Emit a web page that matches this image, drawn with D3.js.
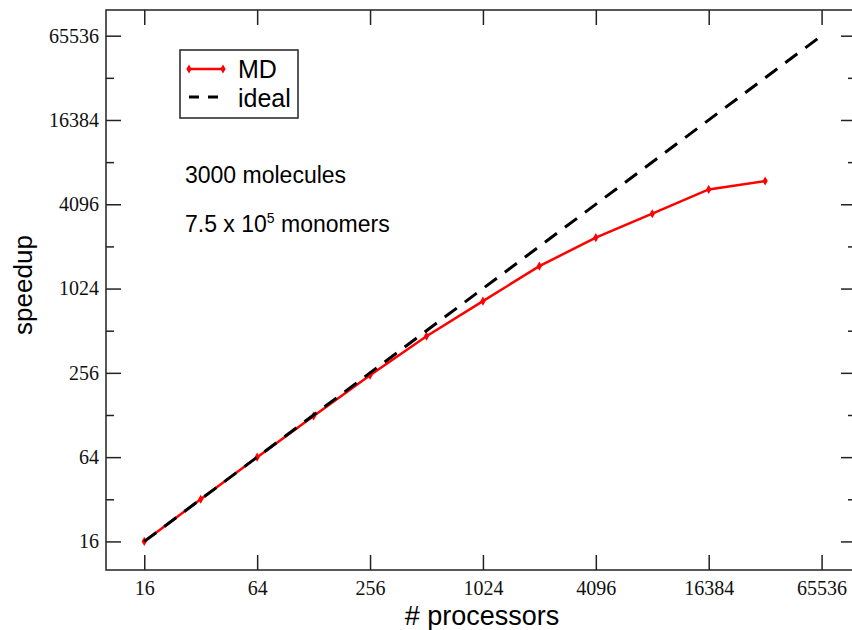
<!DOCTYPE html>
<html>
<head>
<meta charset="utf-8">
<script src="https://cdn.jsdelivr.net/npm/d3@7"></script>
<style>
  html, body { margin: 0; padding: 0; background: #fff; }
  svg { display: block; }
</style>
</head>
<body>
<svg id="chart" width="852" height="630"></svg>
<script>
// Strong-scaling speedup of the MD code versus processor count
const processors = [16, 32, 64, 128, 256, 512, 1024, 2048, 4096, 8192, 16384, 32768];
const mdSpeedup  = [16, 32, 64, 126, 246, 467, 832, 1482, 2366, 3508, 5230, 6000];
const idealProcessors = [16, 65536];
const idealSpeedup    = [16, 65536];

const majorTicks = [16, 64, 256, 1024, 4096, 16384, 65536];
const minorTicksY = [32, 128, 512, 2048, 8192, 32768];

const svg = d3.select("#chart");

const frame = { left: 106, top: 10, right: 856, bottom: 570 };

const x = d3.scaleLog().base(2).domain([10, 100000]).range([frame.left, frame.right]);
const y = d3.scaleLog().base(2).domain([10, 100000]).range([frame.bottom, frame.top]);

const serif = "'Liberation Serif', 'Times New Roman', serif";
const sans = "'Liberation Sans', Arial, Helvetica, sans-serif";

function styleAxis(g, withLabels) {
  g.select(".domain").remove();
  g.selectAll(".tick line").attr("stroke", "#222").attr("stroke-width", 1.5);
  g.selectAll(".tick text")
    .attr("fill", "#111")
    .style("font-family", serif)
    .style("font-size", "20px");
  if (!withLabels) g.selectAll(".tick text").remove();
}

// bottom axis with labels, ticks pointing inward
svg.append("g")
  .attr("transform", `translate(0,${frame.bottom})`)
  .call(d3.axisBottom(x).tickValues(majorTicks).tickFormat(d3.format("d"))
    .tickSize(-15).tickPadding(11))
  .call(g => styleAxis(g, true));

// top mirror ticks
svg.append("g")
  .attr("transform", `translate(0,${frame.top})`)
  .call(d3.axisTop(x).tickValues(majorTicks).tickSize(-15))
  .call(g => styleAxis(g, false));

// left axis with labels
svg.append("g")
  .attr("transform", `translate(${frame.left},0)`)
  .call(d3.axisLeft(y).tickValues(majorTicks).tickFormat(d3.format("d"))
    .tickSize(-15).tickPadding(7))
  .call(g => styleAxis(g, true));

svg.append("g")
  .attr("transform", `translate(${frame.left},0)`)
  .call(d3.axisLeft(y).tickValues(minorTicksY).tickSize(-8))
  .call(g => styleAxis(g, false));

// right mirror ticks
svg.append("g")
  .attr("transform", `translate(${frame.right},0)`)
  .call(d3.axisRight(y).tickValues(majorTicks).tickSize(-15))
  .call(g => styleAxis(g, false));

svg.append("g")
  .attr("transform", `translate(${frame.right},0)`)
  .call(d3.axisRight(y).tickValues(minorTicksY).tickSize(-8))
  .call(g => styleAxis(g, false));

// plot frame
svg.append("rect")
  .attr("x", frame.left).attr("y", frame.top)
  .attr("width", frame.right - frame.left).attr("height", frame.bottom - frame.top)
  .attr("fill", "none").attr("stroke", "#222").attr("stroke-width", 1.5);

const line = d3.line().x(d => x(d[0])).y(d => y(d[1]));

// measured MD speedup
const mdData = d3.zip(processors, mdSpeedup);
svg.append("path")
  .datum(mdData)
  .attr("d", line)
  .attr("fill", "none")
  .attr("stroke", "#ff0000")
  .attr("stroke-width", 2.5);

const diamond = d3.symbol().type(d3.symbolDiamond).size(24);
svg.append("g").selectAll("path")
  .data(mdData)
  .join("path")
  .attr("d", diamond)
  .attr("transform", d => `translate(${x(d[0])},${y(d[1])})`)
  .attr("fill", "#ff0000");

// ideal scaling (dashed), drawn over the measured curve
svg.append("path")
  .datum(d3.zip(idealProcessors, idealSpeedup))
  .attr("d", line)
  .attr("fill", "none")
  .attr("stroke", "#000")
  .attr("stroke-width", 3)
  .attr("stroke-dasharray", "15,10");

// axis titles
svg.append("text")
  .attr("x", 482).attr("y", 625)
  .attr("text-anchor", "middle")
  .style("font-family", sans).style("font-size", "27px")
  .attr("fill", "#000")
  .text("# processors");

svg.append("text")
  .attr("transform", "translate(32,285) rotate(-90)")
  .attr("text-anchor", "middle")
  .style("font-family", sans).style("font-size", "26px")
  .attr("fill", "#000")
  .text("speedup");

// legend
const legend = svg.append("g");
legend.append("rect")
  .attr("x", 180).attr("y", 50).attr("width", 118).attr("height", 68)
  .attr("fill", "#fff").attr("stroke", "#222").attr("stroke-width", 1.5);
legend.append("line")
  .attr("x1", 189).attr("x2", 223).attr("y1", 69).attr("y2", 69)
  .attr("stroke", "#ff0000").attr("stroke-width", 2.5);
legend.selectAll(".lm")
  .data([189, 223])
  .join("path")
  .attr("d", diamond)
  .attr("transform", d => `translate(${d},69)`)
  .attr("fill", "#ff0000");
legend.append("line")
  .attr("x1", 189).attr("x2", 222).attr("y1", 97).attr("y2", 97)
  .attr("stroke", "#000").attr("stroke-width", 3)
  .attr("stroke-dasharray", "10,9");
legend.append("text")
  .attr("x", 238).attr("y", 78)
  .style("font-family", sans).style("font-size", "25px")
  .text("MD");
legend.append("text")
  .attr("x", 238).attr("y", 107)
  .style("font-family", sans).style("font-size", "25px")
  .text("ideal");

// system-size annotation
svg.append("text")
  .attr("x", 185).attr("y", 183)
  .style("font-family", sans).style("font-size", "23px")
  .text("3000 molecules");

const note = svg.append("text")
  .attr("x", 185).attr("y", 232)
  .style("font-family", sans).style("font-size", "23px");
note.append("tspan").text("7.5 x 10");
note.append("tspan").attr("dy", -9).style("font-size", "14px").text("5");
note.append("tspan").attr("dy", 9).text(" monomers");
</script>
</body>
</html>
